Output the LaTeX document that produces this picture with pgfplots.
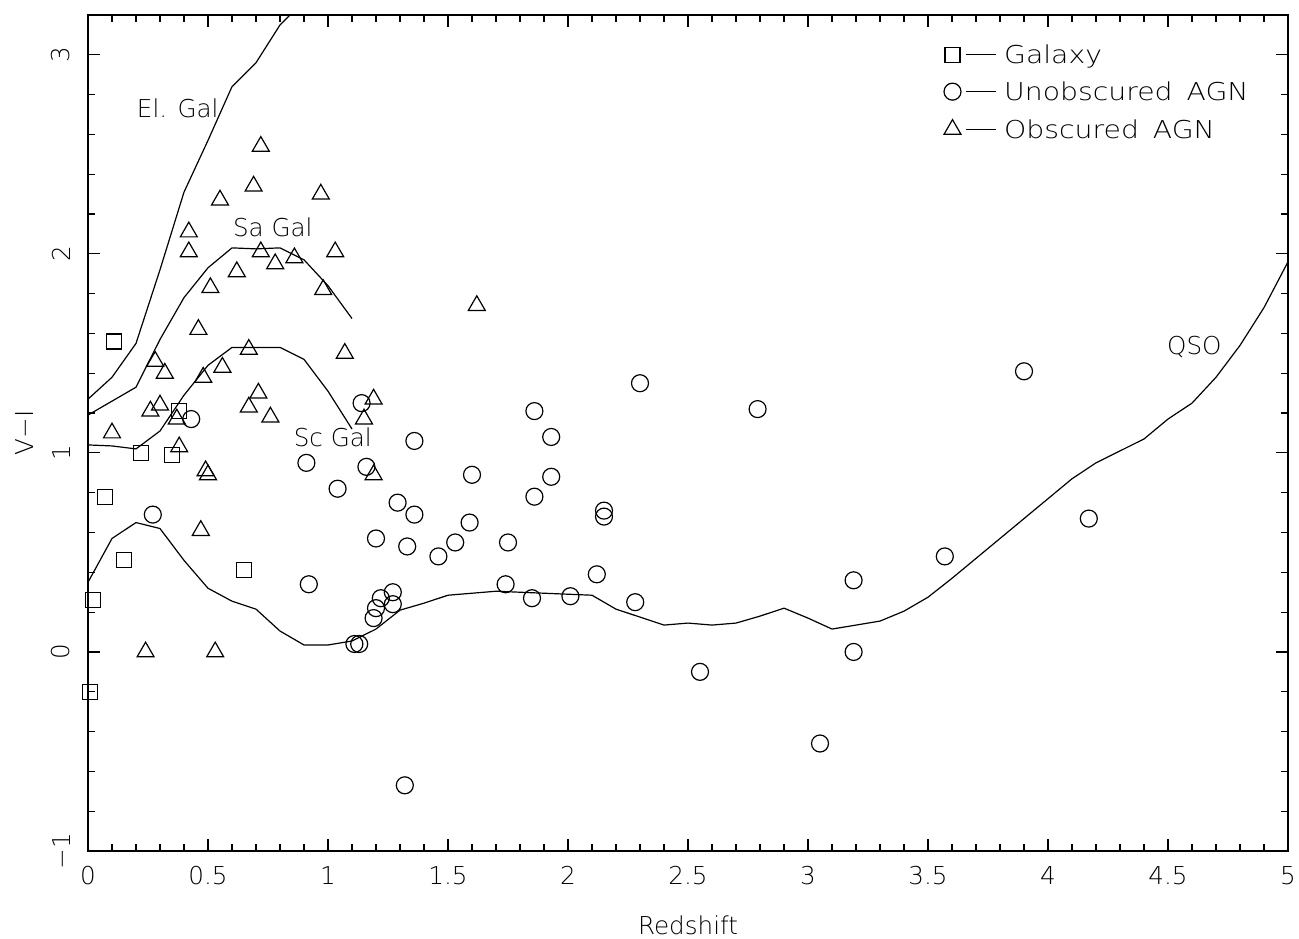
\documentclass[border=0pt]{standalone}
\usepackage{pgfplots}
\pgfplotsset{compat=1.18}
\usepackage{fontspec}
\IfFontExistsTF{DejaVu Sans ExtraLight}{%
  \setmainfont{DejaVu Sans ExtraLight}%
  \newfontfamily\legfam{DejaVu Sans ExtraLight}[FakeStretch=1.15]}{%
  \setmainfont{DejaVu Sans}%
  \newfontfamily\legfam{DejaVu Sans}[FakeStretch=1.15]}
\newcommand\lbl{\fontsize{12.3}{14.8}\selectfont}
\newcommand\leg{\legfam\fontsize{12.3}{14.8}\selectfont}
\begin{document}
\begin{tikzpicture}
\begin{axis}[
  scale only axis, width=600pt, height=418pt,
  xmin=0, xmax=5, ymin=-1, ymax=3.2,
  xtick={0,0.5,...,5}, xticklabels={0,0.5,1,1.5,2,2.5,3,3.5,4,4.5,5},
  ytick={-1,0,1,2,3}, yticklabels={−1,0,1,2,3},
  minor x tick num=4, minor y tick num=4,
  tick align=inside, major tick length=6.2pt, minor tick length=3.4pt,
  axis line style={line width=0.8pt},
  every tick/.style={black, line width=0.6pt},
  xticklabel style={font=\lbl, anchor=north, inner xsep=0pt, inner ysep=7.5pt},
  yticklabel style={font=\lbl, rotate=90, anchor=south, inner xsep=0pt, inner ysep=8.7pt},
  xlabel={Redshift}, ylabel={V−I},
  xlabel style={font=\lbl, inner sep=0pt, at={(axis description cs:0.5,-0.0895)}, anchor=center},
  ylabel style={font=\lbl, at={(axis description cs:-0.0525,0.5)}, anchor=center},
  legend style={at={(axis cs:3.565,3.048)}, anchor=north west, draw=none, fill=none,
    inner sep=0pt, row sep=9.5pt, column sep=4pt, font=\leg,
    nodes={inner sep=0pt, text height=9pt, text depth=0pt}},
  legend cell align=left,
  legend image code/.code={\draw[#1] plot coordinates {(0pt,0pt)};
     \draw[line width=0.6pt] (6.5pt,0pt) -- (21.5pt,0pt);},
]
% Galaxy
\addplot[only marks, mark=square, mark size=3.75pt, mark options={line width=0.6pt, fill=none}] table {
0.11 1.56
0.38 1.21
0.22 1.00
0.35 0.99
0.07 0.78
0.15 0.46
0.65 0.41
0.02 0.26
0.01 -0.20
};
\addlegendentry{Galaxy}
% Unobscured AGN
\addplot[only marks, mark=o, mark size=4.25pt, mark options={line width=0.6pt}] table {
0.43 1.17
0.27 0.69
0.91 0.95
0.92 0.34
1.14 1.25
1.16 0.93
1.04 0.82
1.36 1.06
1.29 0.75
1.36 0.69
1.20 0.57
1.33 0.53
1.46 0.48
1.27 0.30
1.22 0.27
1.27 0.24
1.20 0.22
1.19 0.17
1.11 0.04
1.13 0.04
1.32 -0.67
1.60 0.89
1.59 0.65
1.53 0.55
1.75 0.55
1.74 0.34
1.85 0.27
1.86 1.21
1.93 1.08
1.93 0.88
1.86 0.78
2.01 0.28
2.12 0.39
2.15 0.71
2.15 0.68
2.28 0.25
2.30 1.35
2.55 -0.10
2.79 1.22
3.05 -0.46
3.19 0.36
3.19 0.00
3.57 0.48
3.90 1.41
4.17 0.67
};
\addlegendentry{Unobscured\hspace{2.5pt} AGN}
% Obscured AGN
\addplot[only marks, mark=triangle, mark size=4.9pt, mark options={line width=0.6pt}] table {
0.72 2.54
0.69 2.34
0.55 2.27
0.97 2.30
0.42 2.11
0.42 2.01
0.72 2.01
1.03 2.01
0.78 1.95
0.86 1.98
0.62 1.91
0.98 1.82
0.51 1.83
0.46 1.62
1.07 1.50
0.67 1.52
0.28 1.46
0.56 1.43
0.32 1.40
0.48 1.38
0.71 1.30
1.19 1.27
0.30 1.24
0.67 1.23
0.26 1.21
0.37 1.17
0.76 1.18
1.15 1.17
0.10 1.10
0.38 1.03
0.49 0.91
0.50 0.89
1.19 0.89
0.47 0.61
0.24 0.00
0.53 0.00
1.62 1.74
};
\addlegendentry{Obscured\hspace{2.5pt} AGN}
% El. Gal
\addplot[forget plot, line width=0.6pt, mark=none] table {
0.0 1.27
0.1 1.38
0.2 1.55
0.3 1.92
0.4 2.31
0.5 2.57
0.6 2.84
0.7 2.96
0.8 3.15
0.9 3.27
};
% Sa Gal
\addplot[forget plot, line width=0.6pt, mark=none] table {
0.0 1.19
0.1 1.26
0.2 1.33
0.3 1.57
0.4 1.78
0.5 1.93
0.6 2.03
0.7 2.025
0.8 2.03
0.9 1.97
1.0 1.84
1.1 1.675
};
% Sc Gal
\addplot[forget plot, line width=0.6pt, mark=none] table {
0.0 1.04
0.1 1.035
0.2 1.02
0.3 1.11
0.4 1.29
0.5 1.44
0.6 1.53
0.7 1.53
0.8 1.53
0.9 1.47
1.0 1.31
1.1 1.12
};
% QSO
\addplot[forget plot, line width=0.6pt, mark=none] table {
0.0 0.35
0.1 0.57
0.2 0.65
0.3 0.62
0.4 0.46
0.5 0.32
0.6 0.255
0.7 0.215
0.8 0.105
0.9 0.035
1.0 0.035
1.1 0.055
1.2 0.115
1.3 0.21
1.4 0.245
1.5 0.285
1.6 0.295
1.7 0.305
1.8 0.30
1.9 0.295
2.0 0.29
2.1 0.285
2.2 0.215
2.3 0.175
2.4 0.135
2.5 0.145
2.6 0.135
2.7 0.145
2.8 0.18
2.9 0.22
3.0 0.17
3.1 0.115
3.2 0.135
3.3 0.155
3.4 0.205
3.5 0.275
3.6 0.37
3.7 0.47
3.8 0.57
3.9 0.67
4.0 0.77
4.1 0.87
4.2 0.95
4.3 1.01
4.4 1.07
4.5 1.17
4.6 1.25
4.7 1.38
4.8 1.54
4.9 1.73
5.0 1.96
};
\node[font=\lbl] at (axis cs:0.374,2.73) {El. Gal};
\node[font=\lbl] at (axis cs:0.77,2.135) {Sa Gal};
\node[font=\lbl] at (axis cs:1.02,1.08) {Sc Gal};
\node[font=\lbl] at (axis cs:4.61,1.53) {QSO};
\end{axis}
\pgfresetboundingbox
\path[use as bounding box] ([shift={(-44pt,-44pt)}]current axis.south west) rectangle ([shift={(5.5pt,7.5pt)}]current axis.north east);
\end{tikzpicture}
\end{document}
